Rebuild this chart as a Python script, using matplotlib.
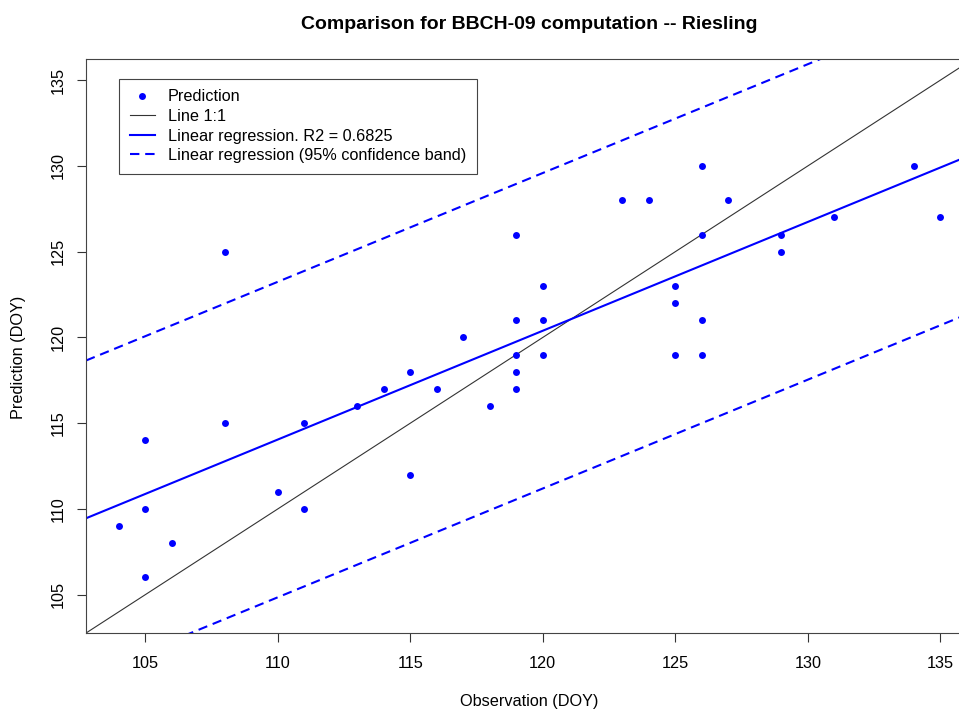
import matplotlib
matplotlib.use("Agg")
import matplotlib.pyplot as plt
from matplotlib.lines import Line2D
import numpy as np

# Observed vs predicted BBCH-09 dates (day of year), Riesling
observation = [104, 105, 105, 105, 106, 108, 108, 110, 111, 111,
               113, 114, 115, 115, 116, 117, 118, 119, 119, 119,
               119, 119, 120, 120, 120, 123, 124, 125, 125, 125,
               126, 126, 126, 126, 127, 129, 129, 131, 134, 135]
prediction = [109, 114, 110, 106, 108, 125, 115, 111, 115, 110,
              116, 117, 118, 112, 117, 120, 116, 126, 121, 119,
              118, 117, 123, 121, 119, 128, 128, 123, 122, 119,
              130, 126, 121, 119, 128, 126, 125, 127, 130, 127]
tick_values = [105, 110, 115, 120, 125, 130, 135]
r2_text = "0.6825"
band_halfwidth = 9.2  # (DOY)

plt.rcParams['font.family'] = ['Liberation Sans', 'DejaVu Sans']

x = np.array(observation, dtype=float)
y = np.array(prediction, dtype=float)
slope, intercept = np.polyfit(x, y, 1)

lo = min(x.min(), y.min())
hi = max(x.max(), y.max())
pad = 0.04 * (hi - lo)
lims = (lo - pad, hi + pad)

fig = plt.figure(figsize=(9.59, 7.14), dpi=100)
ax = fig.add_axes([0.0897, 0.1134, 0.925, 0.804])

dash = (0, (4.5, 2.8))
xx = np.array(lims)
fit = slope * xx + intercept
ax.plot(x, y, 'o', color='blue', markersize=5, markeredgewidth=0, zorder=3)
ax.plot(xx, xx, color='#333333', linewidth=0.8)
ax.plot(xx, fit, color='blue', linewidth=1.5)
ax.plot(xx, fit + band_halfwidth, color='blue', linewidth=1.5, linestyle=dash)
ax.plot(xx, fit - band_halfwidth, color='blue', linewidth=1.5, linestyle=dash)

ax.set_xlim(lims)
ax.set_ylim(lims)
ax.set_xticks(tick_values)
ax.set_yticks(tick_values)
ax.tick_params(direction='out', length=6.5, width=0.8, color='#333333',
               labelsize=11.7)
ax.tick_params(axis='x', pad=10)
ax.tick_params(axis='y', pad=8)
for lab in ax.get_yticklabels():
    lab.set_rotation(90)
    lab.set_va('center')
for sp in ax.spines.values():
    sp.set_color('#444444')
    sp.set_linewidth(0.8)

fig.text(0.552, 0.966, "Comparison for BBCH-09 computation -- Riesling",
         ha='center', va='center', fontsize=14, fontweight='bold')
fig.text(0.552, 0.017, "Observation (DOY)", ha='center', va='center', fontsize=11.7)
fig.text(0.019, 0.5, "Prediction (DOY)", ha='center', va='center',
         rotation=90, fontsize=11.7)

handles = [
    Line2D([], [], marker='o', linestyle='none', color='blue', markersize=5,
           markeredgewidth=0),
    Line2D([], [], color='#333333', linewidth=0.8),
    Line2D([], [], color='blue', linewidth=1.5),
    Line2D([], [], color='blue', linewidth=1.5, linestyle=dash),
]
labels = ["Prediction", "Line 1:1", "Linear regression. R2 = " + r2_text,
          "Linear regression (95% confidence band)"]
leg = ax.legend(handles, labels, loc='upper left', bbox_to_anchor=(0.0372, 0.9653),
                borderaxespad=0, fontsize=11.7, fancybox=False, framealpha=1,
                edgecolor='#444444', labelspacing=0.28, handlelength=1.55,
                handletextpad=0.8, borderpad=0.65)
leg.get_frame().set_linewidth(0.8)

fig.savefig("out.png", dpi=100)
